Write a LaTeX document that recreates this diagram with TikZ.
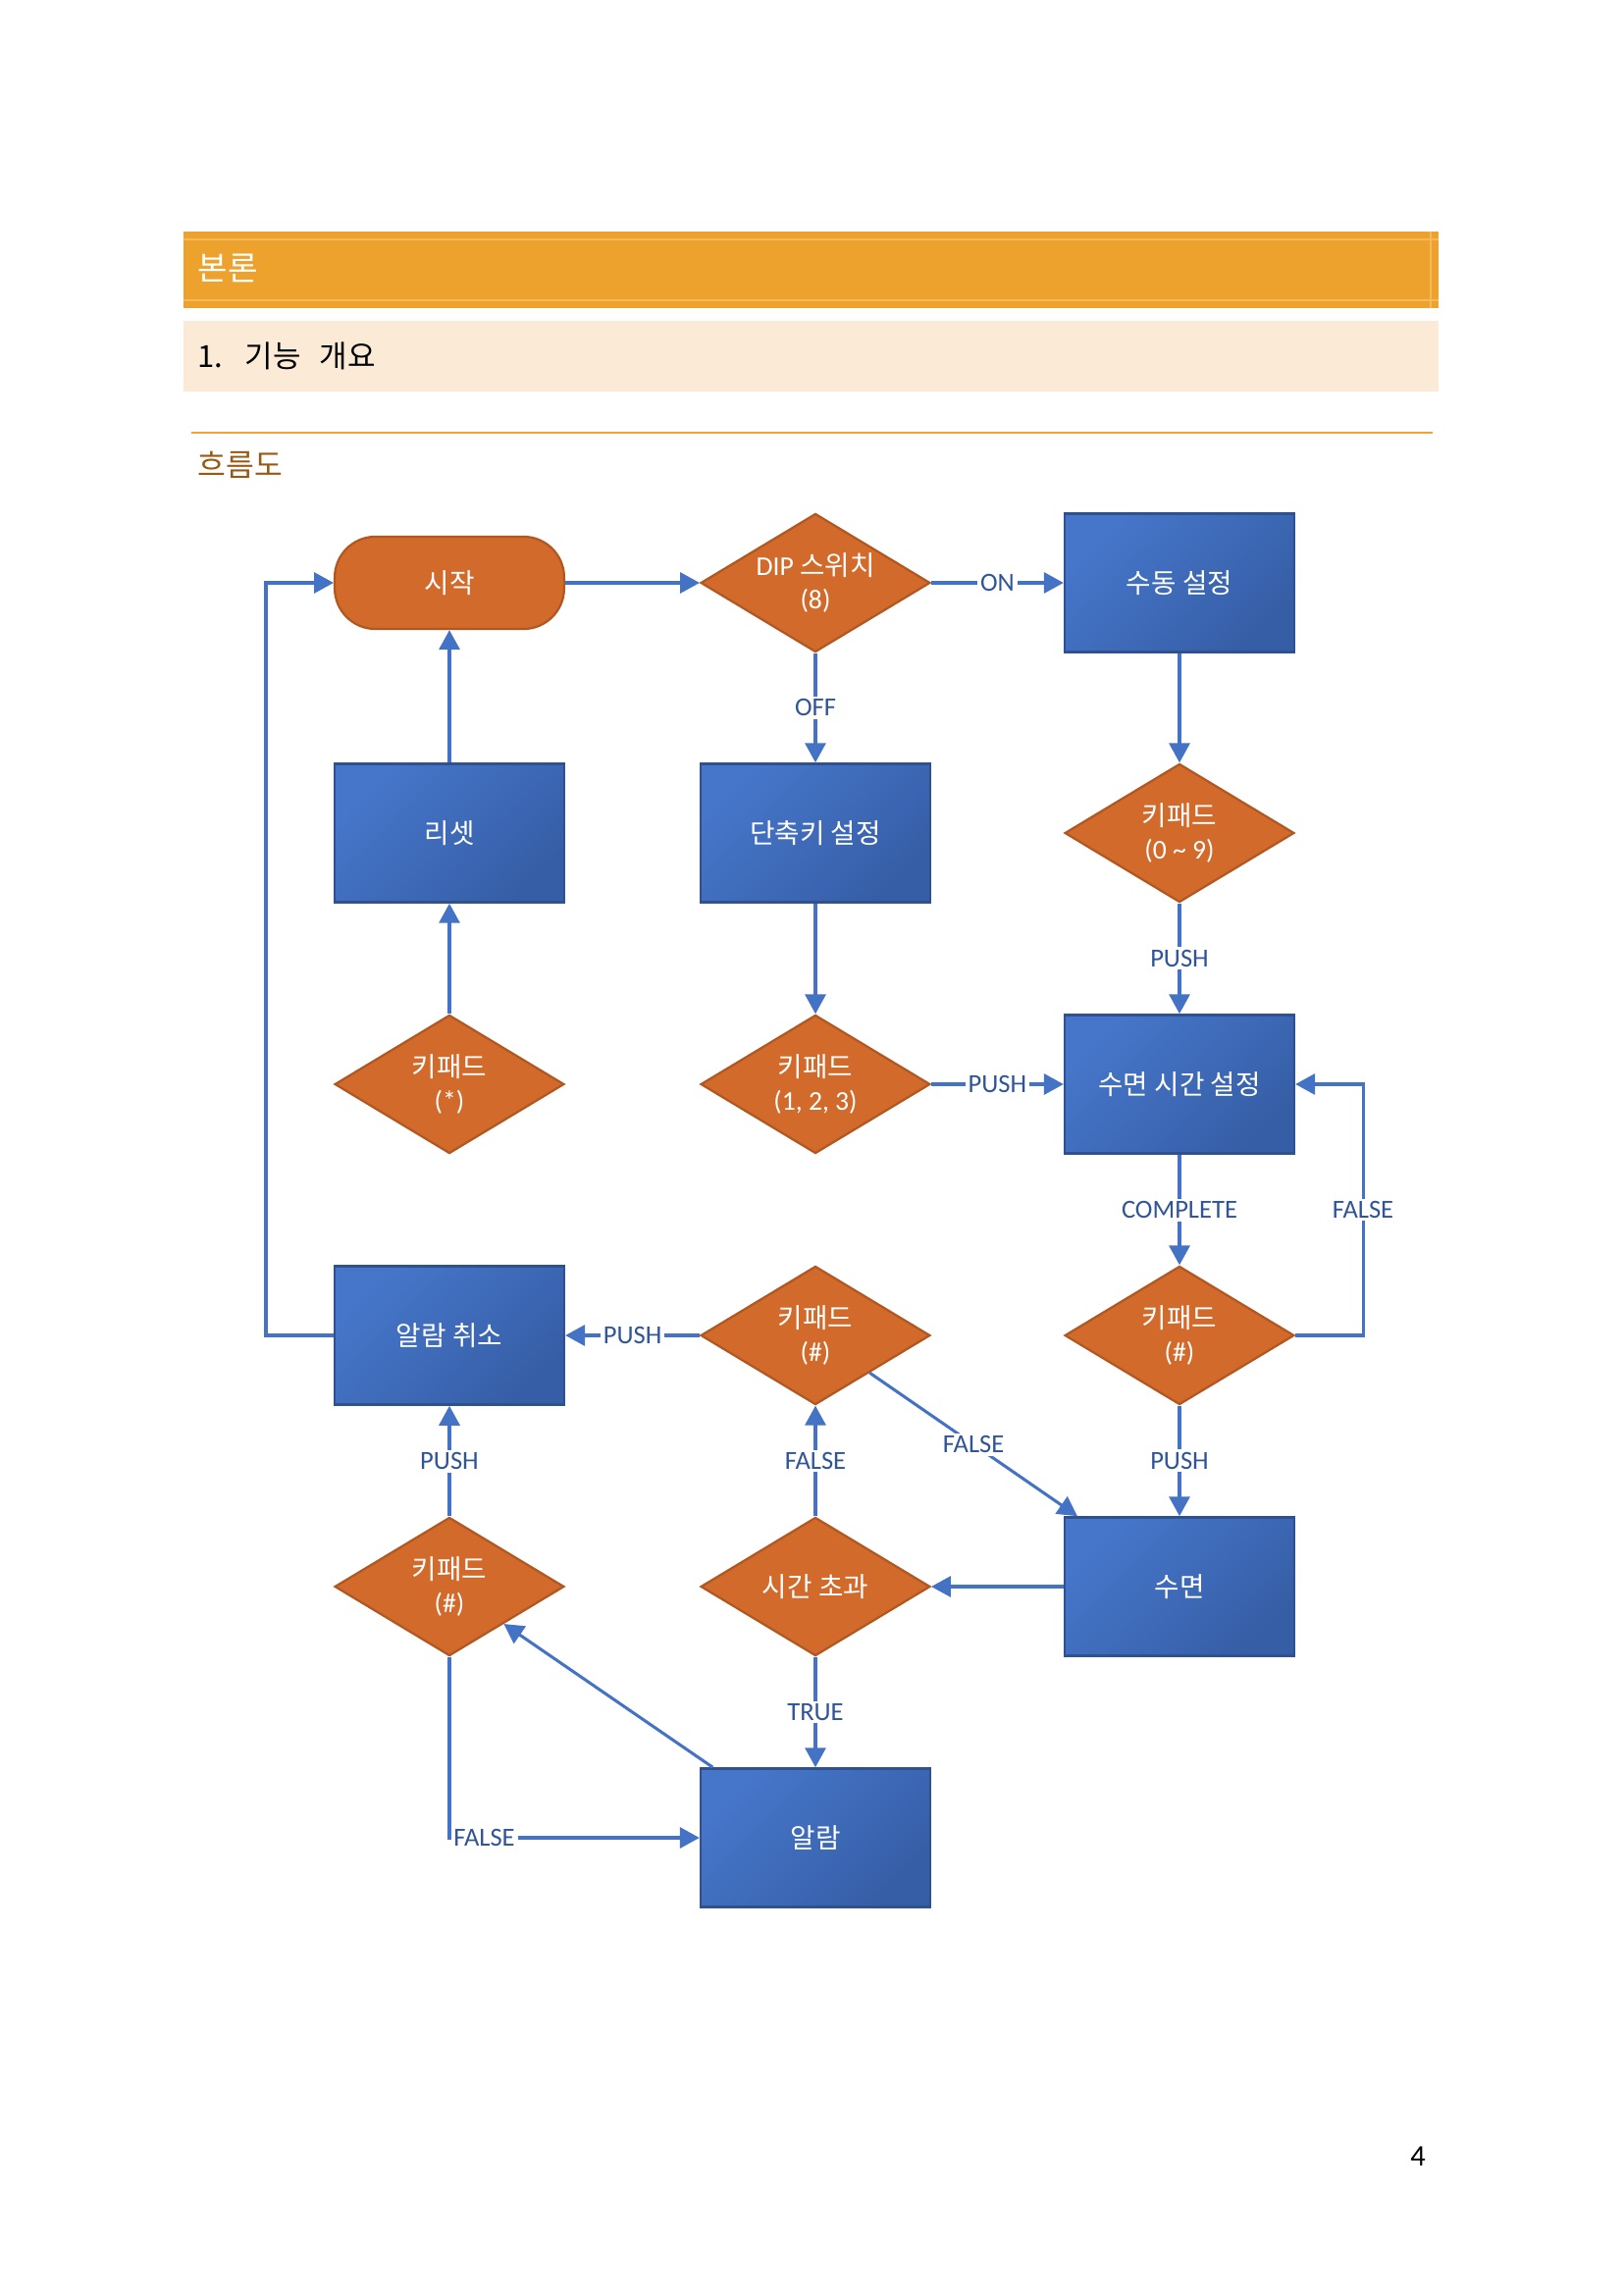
\documentclass[tikz,border=0pt]{standalone}
\usepackage{fontspec}
\setmainfont{Carlito}
\newfontfamily\kr{Noto Sans CJK KR}
\newcommand\ko[1]{{\kr #1}}
\usetikzlibrary{shapes.geometric, arrows.meta, backgrounds, calc}

\definecolor{hdrOrange}{RGB}{238,162,46}
\definecolor{hdrLight}{RGB}{246,184,88}
\definecolor{beige}{RGB}{251,234,214}
\definecolor{ruleOrange}{RGB}{240,165,50}
\definecolor{brownTxt}{RGB}{150,90,22}
\definecolor{decFill}{RGB}{209,106,42}
\definecolor{decLine}{RGB}{177,88,34}
\definecolor{boxTop}{RGB}{70,118,202}
\definecolor{boxBot}{RGB}{54,94,166}
\definecolor{boxLine}{RGB}{47,82,143}
\definecolor{wire}{RGB}{68,114,196}
\definecolor{lblBlue}{RGB}{47,85,151}

\begin{document}
\begin{tikzpicture}[x=0.36135pt, y=-0.36135pt,
  nodefont/.style={font=\fontsize{10}{12.6}\selectfont},
  procbox/.style={rectangle, draw=boxLine, line width=0.9pt,
    top color=boxTop, bottom color=boxBot, shading angle=45,
    minimum width=84.5pt, minimum height=51pt, inner sep=0pt,
    text=white, align=center, nodefont},
  decision/.style={diamond, shape aspect=1.66, fill=decFill, draw=decLine,
    line width=0.8pt, minimum width=84.5pt, minimum height=51pt,
    inner sep=0pt, text=white, align=center, nodefont},
  terminal/.style={rectangle, rounded corners=15pt, fill=decFill,
    draw=decLine, line width=0.8pt, minimum width=84.5pt,
    minimum height=34pt, inner sep=0pt, text=white, nodefont},
  arr/.style={draw=wire, line width=1.1pt,
    -{Triangle[length=7.2pt,width=7.6pt]}},
  lbl/.style={fill=white, text=lblBlue, inner sep=1pt,
    font=\fontsize{9.6}{11}\selectfont},
]
% page
\fill[white] (0,0) rectangle (1654,2339);
\useasboundingbox (0,0) rectangle (1654,2339);

% section heading bars
\fill[hdrOrange] (187,236) rectangle (1466,314);
\draw[hdrLight, line width=0.7pt] (187,244) -- (1466,244);
\draw[hdrLight, line width=0.7pt] (187,306) -- (1466,306);
\draw[hdrLight, line width=0.5pt] (1458,236) -- (1458,314);
\node[anchor=west, text=white, inner sep=0pt,
  font=\kr\fontsize{12}{14}\selectfont] (sec) at (201,273) {본론};
\fill[beige] (187,327) rectangle (1466,399);
\node[anchor=west, text=black, inner sep=0pt,
  font=\kr\fontsize{11.2}{13}\selectfont] (sub) at (201,363)
  {1.\hspace{8pt}기능\hspace{7pt}개요};
\draw[ruleOrange, line width=0.8pt] (195,441) -- (1460,441);
\node[anchor=west, text=brownTxt, inner sep=0pt,
  font=\kr\fontsize{11.3}{13}\selectfont] (flow) at (201,474) {흐름도};
\node[font=\fontsize{11}{13}\selectfont] (pg) at (1445,2198) {4};

% flowchart nodes
\node[terminal] (start) at (458,594) {\ko{시작}};
\node[decision] (dip) at (831,594) {DIP \ko{스위치}\\(8)};
\node[procbox] (manual) at (1202,594) {\ko{수동 설정}};
\node[procbox] (reset) at (458,849) {\ko{리셋}};
\node[procbox] (hotkey) at (831,849) {\ko{단축키 설정}};
\node[decision] (kp09) at (1202,849) {\ko{키패드}\\(0 \textasciitilde\ 9)};
\node[decision] (kpstar) at (458,1105) {\ko{키패드}\\(*)};
\node[decision] (kp123) at (831,1105) {\ko{키패드}\\(1, 2, 3)};
\node[procbox] (sleepset) at (1202,1105) {\ko{수면 시간 설정}};
\node[procbox] (cancel) at (458,1361) {\ko{알람 취소}};
\node[decision] (kpB) at (831,1361) {\ko{키패드}\\(\#)};
\node[decision] (kpC) at (1202,1361) {\ko{키패드}\\(\#)};
\node[decision] (kpA) at (458,1617) {\ko{키패드}\\(\#)};
\node[decision] (timeout) at (831,1617) {\ko{시간 초과}};
\node[procbox] (sleep) at (1202,1617) {\ko{수면}};
\node[procbox] (alarm) at (831,1873) {\ko{알람}};

% soft shadows
\begin{scope}[on background layer]
  \foreach \n in {manual,reset,hotkey,sleepset,cancel,sleep,alarm}{
    \foreach \d in {1,...,5}{
      \fill[wire, opacity=0.05]
        ($(\n.south west)+(-0.3*\d pt,-0.9*\d pt)$) rectangle
        ($(\n.north east)+(0.3*\d pt,-6pt)$);
    }
  }
  \foreach \n in {dip,kp09,kpstar,kp123,kpB,kpC,kpA,timeout}{
    \foreach \d in {1,...,5}{
      \fill[decFill, opacity=0.05]
        ($(\n.north)+(0,-1pt)$) -- ($(\n.east)+(0.5*\d pt,-0.6*\d pt)$) --
        ($(\n.south)+(0,-1*\d pt)$) -- ($(\n.west)+(-0.5*\d pt,-0.6*\d pt)$) -- cycle;
    }
  }
  \foreach \d in {1,...,5}{
    \fill[decFill, opacity=0.05, rounded corners=15pt]
      ($(start.south west)+(-0.3*\d pt,-0.8*\d pt)$) rectangle
      ($(start.north east)+(0.3*\d pt,-6pt)$);
  }
\end{scope}

% loop guides
\coordinate (lx) at (271,594);
\coordinate (rx) at (1389,1232);

% connectors
\draw[arr] (start) -- (dip);
\draw[arr] (dip) -- node[lbl]{ON} (manual);
\draw[arr] (dip) -- node[lbl]{OFF} (hotkey);
\draw[arr] (manual) -- (kp09);
\draw[arr] (kp09) -- node[lbl]{PUSH} (sleepset);
\draw[arr] (hotkey) -- (kp123);
\draw[arr] (kp123) -- node[lbl]{PUSH} (sleepset);
\draw[arr] (kpstar) -- (reset);
\draw[arr] (reset) -- (start);
\draw[arr] (sleepset) -- node[lbl]{COMPLETE} (kpC);
\draw[arr] (kpC.east) -- (kpC.east -| rx) -- node[lbl]{FALSE}
  (sleepset.east -| rx) -- (sleepset.east);
\draw[arr] (kpC) -- node[lbl]{PUSH} (sleep);
\draw[arr] (sleep) -- (timeout);
\draw[arr] (timeout) -- node[lbl]{FALSE} (kpB);
\draw[arr] (timeout) -- node[lbl]{TRUE} (alarm);
\draw[arr] (kpB) -- node[lbl]{PUSH} (cancel);
\draw[arr] (kpB) -- node[lbl]{FALSE} (sleep);
\draw[arr] (kpA) -- node[lbl]{PUSH} (cancel);
\draw[arr] (cancel.west) -- (cancel.west -| lx) -- (lx) -- (start.west);
\draw[arr] (alarm) -- (kpA);
\draw[arr] (kpA.south) |- node[lbl, pos=0.5, anchor=west]{FALSE} (alarm.west);
\end{tikzpicture}
\end{document}
